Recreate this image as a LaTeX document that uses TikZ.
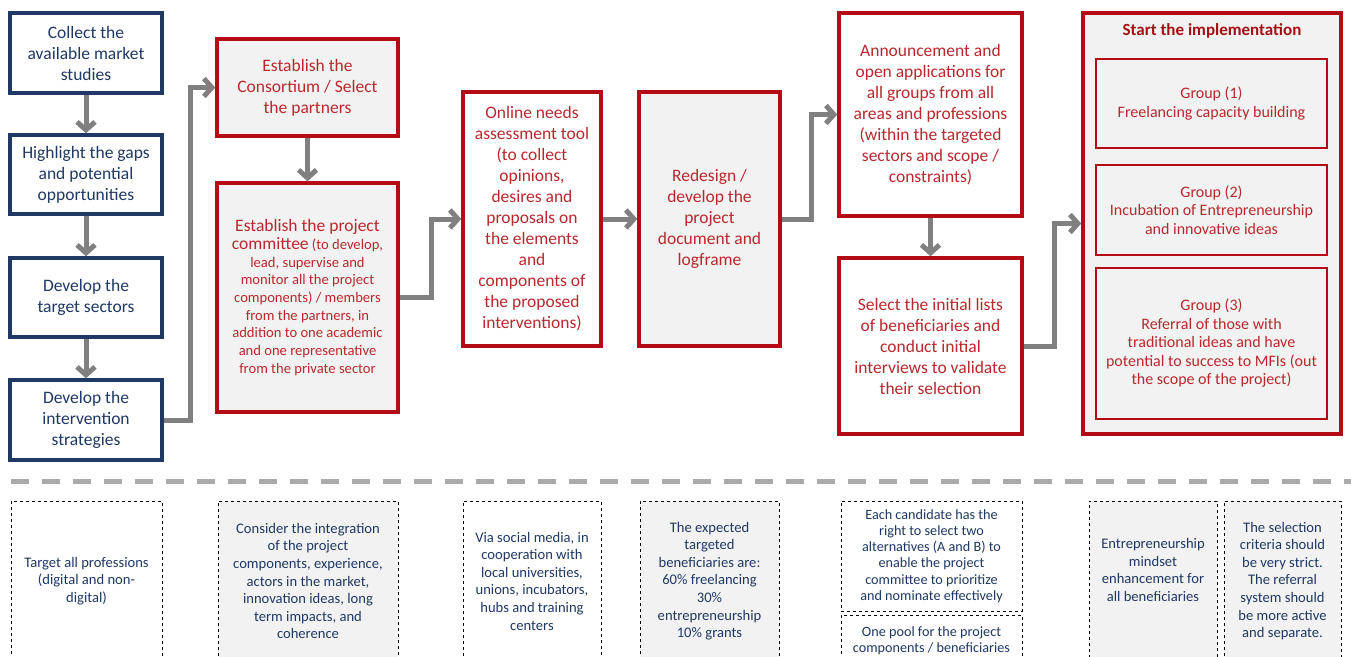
\documentclass[tikz,border=0pt]{standalone}
\usepackage{fontspec}
\setmainfont{Carlito}
\usepackage{xcolor}
\usetikzlibrary{arrows.meta, positioning, calc}

\definecolor{navy}{RGB}{31,56,100}
\definecolor{boxred}{RGB}{180,12,22}
\definecolor{redtext}{RGB}{185,40,45}
\definecolor{titlered}{RGB}{165,15,20}
\definecolor{panelgray}{RGB}{242,242,242}
\definecolor{arrowgray}{RGB}{128,128,128}
\definecolor{sepgray}{RGB}{170,170,170}

\newcommand{\bigtxt}{\fontsize{17.5}{21}\selectfont}
\newcommand{\smalltxt}{\fontsize{14.6}{17.7}\selectfont}
\newcommand{\grouptxt}{\fontsize{16}{18.5}\selectfont}
\newcommand{\notetxt}{\fontsize{14.6}{17.6}\selectfont}
\newcommand{\tighttxt}{\fontsize{14.2}{16.3}\selectfont}

\begin{document}
\begin{tikzpicture}[x=1pt, y=-1pt, line join=miter,
    navybox/.style={draw=navy, line width=3.5pt, fill=white, text=navy,
        align=center, inner sep=0pt, font=\bigtxt},
    redbox/.style={draw=boxred, line width=3.5pt, fill=white, text=redtext,
        align=center, inner sep=0pt, font=\bigtxt},
    graybox/.style={redbox, fill=panelgray},
    groupbox/.style={draw=boxred, line width=1.2pt, fill=panelgray, text=redtext,
        align=center, inner sep=0pt, font=\grouptxt},
    notebox/.style={draw=black, line width=1pt, dash pattern=on 3pt off 3pt,
        fill=white, text=navy, align=center, inner sep=0pt, font=\notetxt},
    graynote/.style={notebox, fill=panelgray},
    flow/.style={draw=arrowgray, line width=5pt,
        -{Straight Barb[length=8pt,width=18pt]}}]

    \useasboundingbox (0,0) rectangle (1351,656);
    \clip (0,0) rectangle (1351,656);

    % Preparation column
    \node[navybox, minimum width=152pt, minimum height=80pt] (coll) at (86,53)
        {Collect the\\available market\\studies};
    \node[navybox, minimum width=152pt, minimum height=79pt] (high) at (86,174.5)
        {Highlight the gaps\\and potential\\opportunities};
    \node[navybox, minimum width=152pt, minimum height=79pt] (targ) at (86,297.5)
        {Develop the\\target sectors};
    \node[navybox, minimum width=152pt, minimum height=80pt] (strat) at (86,420)
        {Develop the\\intervention\\strategies};

    % Consortium and committee
    \node[graybox, minimum width=181pt, minimum height=97pt] (cons) at (307.5,87.5)
        {Establish the\\Consortium / Select\\the partners};
    \node[graybox, font=\smalltxt, minimum width=181pt, minimum height=229pt] (comm) at (307.5,297.5)
        {\bigtxt Establish the project\\{\bigtxt committee} (to develop,\\lead, supervise and\\monitor all the project\\components) / members\\from the partners, in\\addition to one academic\\and one representative\\from the private sector};

    % Needs assessment and redesign
    \node[redbox, minimum width=138pt, minimum height=254pt] (online) at (532,219)
        {Online needs\\assessment tool\\(to collect\\opinions,\\desires and\\proposals on\\the elements\\and\\components of\\the proposed\\interventions)};
    \node[graybox, minimum width=141pt, minimum height=254pt] (redes) at (709.5,219)
        {Redesign /\\develop the\\project\\document and\\logframe};

    % Applications and selection
    \node[redbox, minimum width=183pt, minimum height=203pt] (annc) at (930.5,114.5)
        {Announcement and\\open applications for\\all groups from all\\areas and professions\\(within the targeted\\sectors and scope /\\constraints)};
    \node[redbox, minimum width=183pt, minimum height=176pt] (selct) at (930.5,346)
        {Select the initial lists\\of beneficiaries and\\conduct initial\\interviews to validate\\their selection};

    % Implementation
    \node[graybox, minimum width=258pt, minimum height=421pt] (impl) at (1212,223.5) {};
    \node[text=titlered, font=\fontsize{17}{20}\selectfont\bfseries] (impltitle) at (1212,31)
        {Start the implementation};
    \node[groupbox, minimum width=231pt, minimum height=89pt] (grpA) at (1211.5,103.5)
        {Group (1)\\Freelancing capacity building};
    \node[groupbox, minimum width=231pt, minimum height=90pt] (grpB) at (1211.5,210)
        {Group (2)\\Incubation of Entrepreneurship\\and innovative ideas};
    \node[groupbox, minimum width=231pt, minimum height=151pt] (grpC) at (1211.5,343.5)
        {Group (3)\\Referral of those with\\traditional ideas and have\\potential to success to MFIs (out\\the scope of the project)};

    % Connectors
    \draw[flow] (coll) -- (high);
    \draw[flow] (high) -- (targ);
    \draw[flow] (targ) -- (strat);
    \draw[flow] (strat.east) -- ++(27,0) |- (cons.west);
    \draw[flow] (cons) -- (comm);
    \draw[flow] (comm.east) -- ++(32,0) |- (online.west);
    \draw[flow] (online) -- (redes);
    \draw[flow] (redes.east) -- ++(30,0) |- (annc.west);
    \draw[flow] (annc) -- (selct);
    \draw[flow] (selct.east) -- ++(31,0) |- (impl.west);

    % Separator
    \draw[sepgray, line width=5pt, dash pattern=on 18pt off 13pt, dash phase=20pt]
        (0,481) -- (1351,481);

    % Notes
    \node[notebox, minimum width=151pt, minimum height=160pt] (noteA) at (86.5,581)
        {Target all professions\\(digital and non-\\digital)};
    \node[graynote, minimum width=180pt, minimum height=160pt] (noteB) at (308,581)
        {Consider the integration\\of the project\\components, experience,\\actors in the market,\\innovation ideas, long\\term impacts, and\\coherence};
    \node[notebox, minimum width=138pt, minimum height=160pt] (noteC) at (532,581)
        {Via social media, in\\cooperation with\\local universities,\\unions, incubators,\\hubs and training\\centers};
    \node[graynote, minimum width=139pt, minimum height=160pt] (noteD) at (709.5,581)
        {The expected\\targeted\\beneficiaries are:\\60\% freelancing\\30\%\\entrepreneurship\\10\% grants};
    \node[notebox, font=\tighttxt, minimum width=181pt, minimum height=110pt] (noteE) at (931.5,556)
        {Each candidate has the\\right to select two\\alternatives (A and B) to\\enable the project\\committee to prioritize\\and nominate effectively};
    \node[notebox, font=\tighttxt, minimum width=181pt, minimum height=52pt] (notePool) at (931.5,641)
        {One pool for the project\\components / beneficiaries};
    \node[graynote, minimum width=128pt, minimum height=160pt] (noteF) at (1153,581) {};
    \node[text=navy, align=center, font=\notetxt] (noteFtext) at (1153,570)
        {Entrepreneurship\\mindset\\enhancement for\\all beneficiaries};
    \node[graynote, minimum width=117pt, minimum height=160pt] (noteG) at (1282.5,581)
        {The selection\\criteria should\\be very strict.\\The referral\\system should\\be more active\\and separate.};

\end{tikzpicture}
\end{document}
